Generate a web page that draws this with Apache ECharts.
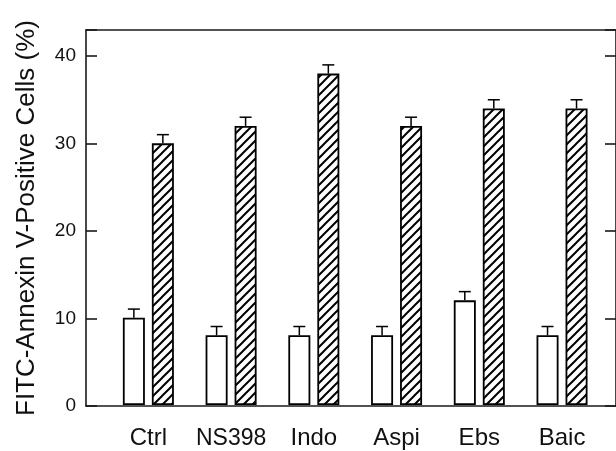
<!DOCTYPE html>
<html>
<head>
<meta charset="utf-8">
<script src="https://cdn.jsdelivr.net/npm/echarts@6/dist/echarts.min.js"></script>
<style>
html,body{margin:0;padding:0;background:#fff;}
#chart{width:616px;height:451px;}
</style>
</head>
<body>
<div id="chart"></div>
<script>
const categories = ['Ctrl', 'NS398', 'Indo', 'Aspi', 'Ebs', 'Baic'];
const controlVals = [10, 8, 8, 8, 12, 8];
const controlErr = [1, 1, 1, 1, 1, 1];
const treatedVals = [30, 32, 38, 32, 34, 34];
const treatedErr = [1, 1, 1, 1, 1, 1];
const yTicks = [0, 10, 20, 30, 40];

const FONT = '"Liberation Sans", Arial, Helvetica, sans-serif';
const INK = '#111';

function hatchPattern() {
  const s = 9;
  const c = document.createElement('canvas');
  c.width = s; c.height = s;
  const g = c.getContext('2d');
  g.fillStyle = '#fff';
  g.fillRect(0, 0, s, s);
  g.strokeStyle = '#000';
  g.lineWidth = 2;
  g.beginPath();
  g.moveTo(-1, s + 1); g.lineTo(s + 1, -1);
  g.moveTo(-2, 2); g.lineTo(2, -2);
  g.moveTo(s - 2, s + 2); g.lineTo(s + 2, s - 2);
  g.stroke();
  return c;
}

const BAR_W = 22;
const GAP = 7;
const HALF = (BAR_W + GAP) / 2;

function errSeries(vals, errs, dx) {
  return {
    type: 'custom',
    xAxisIndex: 2,
    yAxisIndex: 2,
    z: 5,
    data: vals.map((v, i) => [i, v, errs[i]]),
    renderItem: function (params, api) {
      const x = api.value(0), y = api.value(1), e = api.value(2);
      const p0 = api.coord([x, y]);
      const p1 = api.coord([x, y + e]);
      const cx = p0[0] + dx;
      const capW = 12;
      const style = { stroke: '#000', lineWidth: 1.5 };
      return {
        type: 'group',
        children: [
          { type: 'line', shape: { x1: cx, y1: p0[1], x2: cx, y2: p1[1] }, style: style },
          { type: 'line', shape: { x1: cx - capW / 2, y1: p1[1], x2: cx + capW / 2, y2: p1[1] }, style: style }
        ]
      };
    }
  };
}

const chart = echarts.init(document.getElementById('chart'), null, { renderer: 'canvas' });

const lineStyle = { color: '#1a1a1a', width: 1.6 };

const categoryData = categories.map(c => c === 'NS398'
  ? { value: c, textStyle: { fontSize: 23, lineHeight: 25 } }
  : c);

chart.setOption({
  animation: false,
  backgroundColor: '#fff',
  grid: [
    { left: 86, right: -9, top: 30, bottom: 45, show: false },
    { left: 107, right: 12.6, top: 30, bottom: 45, show: false }
  ],
  xAxis: [
    { gridIndex: 0, type: 'value', position: 'bottom', min: 0, max: 1,
      axisLine: { show: true, onZero: false, lineStyle: lineStyle }, axisTick: { show: false },
      axisLabel: { show: false }, splitLine: { show: false } },
    { gridIndex: 0, type: 'value', position: 'top', min: 0, max: 1,
      axisLine: { show: true, onZero: false, lineStyle: lineStyle }, axisTick: { show: false },
      axisLabel: { show: false }, splitLine: { show: false } },
    { gridIndex: 1, type: 'category', data: categoryData, position: 'bottom',
      axisLine: { show: false, onZero: false }, axisTick: { show: false }, splitLine: { show: false },
      axisLabel: { show: true, fontFamily: FONT, fontSize: 24, lineHeight: 24, color: INK, margin: 21, interval: 0 } }
  ],
  yAxis: [
    { gridIndex: 0, type: 'value', position: 'left', min: 0, max: 43, interval: 10,
      name: 'FITC-Annexin V-Positive Cells (%)', nameLocation: 'middle', nameGap: 46,
      nameTextStyle: { fontFamily: FONT, fontSize: 26, color: INK },
      axisLine: { show: true, onZero: false, lineStyle: lineStyle },
      axisTick: { show: true, inside: true, length: 11, lineStyle: lineStyle },
      axisLabel: { show: true, fontFamily: FONT, fontSize: 19, color: INK, margin: 10,
        formatter: function (v) { return yTicks.indexOf(v) >= 0 ? String(v) : ''; } },
      splitLine: { show: false } },
    { gridIndex: 0, type: 'value', position: 'right', min: 0, max: 43, interval: 10,
      axisLine: { show: true, onZero: false, lineStyle: lineStyle },
      axisTick: { show: true, inside: true, length: 11, lineStyle: lineStyle },
      axisLabel: { show: false }, splitLine: { show: false } },
    { gridIndex: 1, type: 'value', min: 0, max: 43, show: false }
  ],
  series: [
    { type: 'bar', name: 'Control', xAxisIndex: 2, yAxisIndex: 2, data: controlVals,
      barWidth: BAR_W, barGap: (GAP / BAR_W * 100).toFixed(1) + '%',
      itemStyle: { color: '#fff', borderColor: '#000', borderWidth: 1.8 } },
    { type: 'bar', name: 'Treated', xAxisIndex: 2, yAxisIndex: 2, data: treatedVals,
      barWidth: BAR_W,
      itemStyle: { color: { image: hatchPattern(), repeat: 'repeat' }, borderColor: '#000', borderWidth: 1.8 } },
    errSeries(controlVals, controlErr, -HALF),
    errSeries(treatedVals, treatedErr, HALF)
  ]
});
</script>
</body>
</html>
